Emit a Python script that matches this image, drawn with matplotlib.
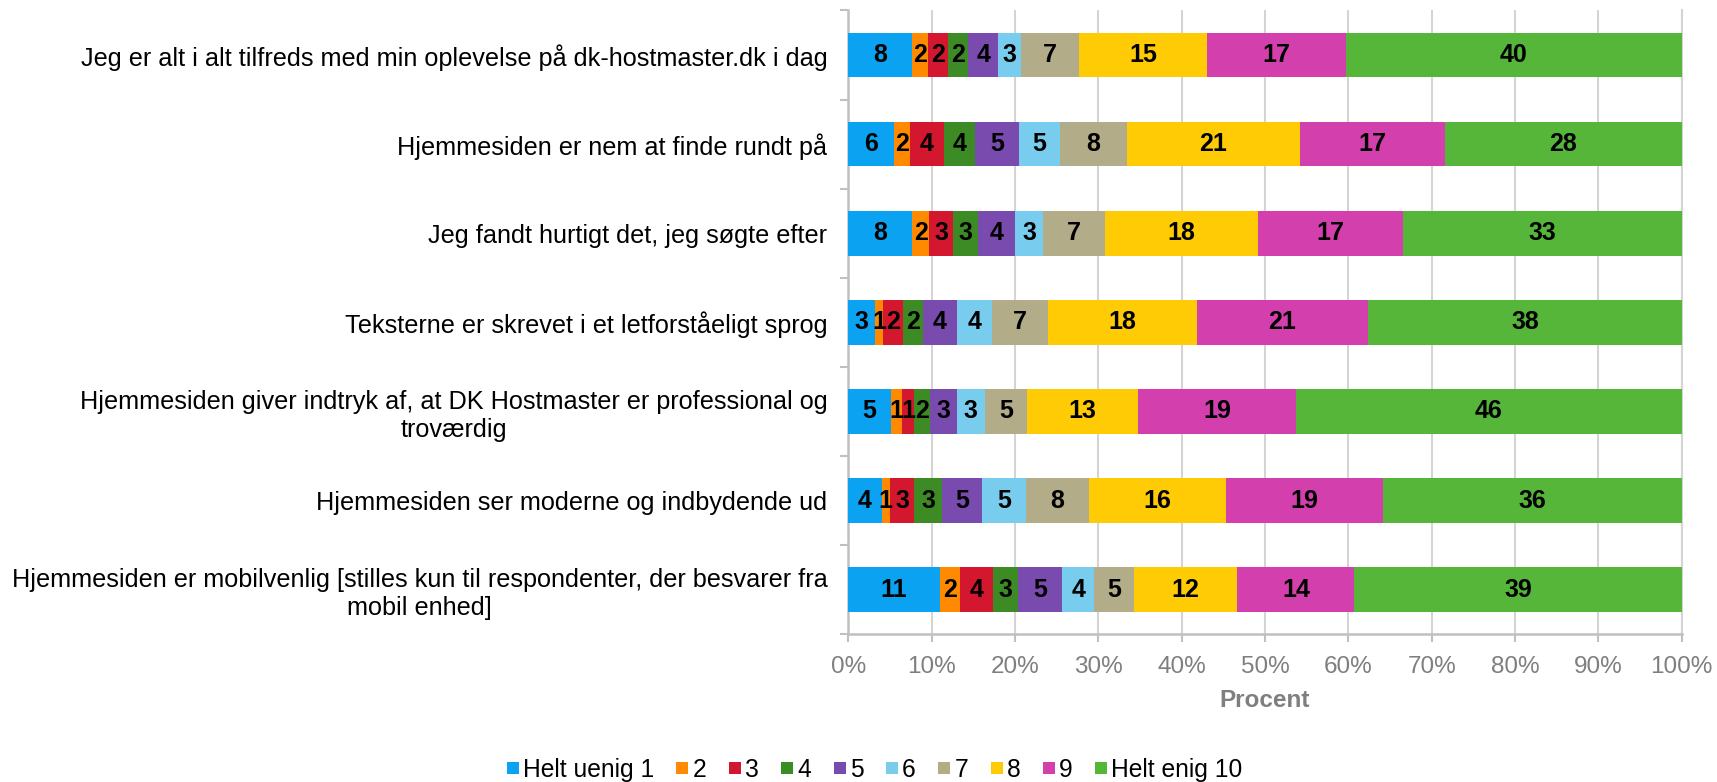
import matplotlib
matplotlib.use('Agg')
import matplotlib.pyplot as plt
from matplotlib.lines import Line2D
import numpy as np

plt.rcParams['font.family'] = ['Liberation Sans', 'DejaVu Sans']

statements = [
    "Jeg er alt i alt tilfreds med min oplevelse på dk-hostmaster.dk i dag",
    "Hjemmesiden er nem at finde rundt på",
    "Jeg fandt hurtigt det, jeg søgte efter",
    "Teksterne er skrevet i et letforståeligt sprog",
    "Hjemmesiden giver indtryk af, at DK Hostmaster er professional og\ntroværdig",
    "Hjemmesiden ser moderne og indbydende ud",
    "Hjemmesiden er mobilvenlig [stilles kun til respondenter, der besvarer fra\nmobil enhed]",
]

scale_names = ["Helt uenig 1", "2", "3", "4", "5", "6", "7", "8", "9", "Helt enig 10"]

# percent per answer (1..10), one list per statement
tilfreds    = [7.7, 1.9, 2.4, 2.4, 3.6, 2.7, 7.0, 15.3, 16.7, 40.3]
nem_rundt   = [5.5, 1.9, 4.1, 3.7, 5.3, 4.9, 8.0, 20.8, 17.4, 28.4]
hurtigt     = [7.7, 2.0, 2.9, 3.0, 4.4, 3.4, 7.4, 18.4, 17.4, 33.4]
tekster     = [3.2, 1.0, 2.4, 2.4, 4.0, 4.2, 6.8, 17.8, 20.6, 37.6]
troevaerdig = [5.1, 1.4, 1.4, 1.9, 3.2, 3.4, 5.0, 13.4, 18.9, 46.3]
moderne     = [4.0, 1.0, 2.9, 3.4, 4.8, 5.2, 7.6, 16.4, 18.9, 35.8]
mobil       = [11.0, 2.4, 4.0, 3.0, 5.3, 3.8, 4.8, 12.4, 14.0, 39.3]

colors = ["#0ba2f1", "#ff8a00", "#d2172f", "#3d8b25", "#7a4bae",
          "#78cdef", "#b2ad88", "#ffcb05", "#d340ad", "#55b63a"]

data = np.array([tilfreds, nem_rundt, hurtigt, tekster, troevaerdig, moderne, mobil]) / 100.0

fig = plt.figure(figsize=(17.17, 7.82), dpi=100)
ax = fig.add_axes([0.494, 0.189, 0.4855, 0.7976])

y = np.arange(len(statements))
left = np.zeros(len(statements))
for j in range(data.shape[1]):
    vals = data[:, j]
    ax.barh(y, vals, left=left, height=0.5, color=colors[j], linewidth=0, zorder=3)
    for i in range(len(y)):
        ax.text(left[i] + vals[i] / 2, y[i], str(int(round(vals[i] * 100))),
                ha='center', va='center', fontsize=18, fontweight='bold',
                color='black', zorder=4)
    left += vals

ax.set_xlim(0, 1)
ax.set_ylim(len(statements) - 0.5, -0.5)

ax.set_xticks(np.arange(0, 1.01, 0.1))
ax.set_xticklabels(["%d%%" % v for v in range(0, 101, 10)])
ax.tick_params(axis='x', colors='#c0c0c0', labelcolor='#7f7f7f', labelsize=17.5,
               length=6, width=1.5, pad=10)

ax.set_yticks(y)
ax.set_yticklabels(statements, fontsize=18.2)
for t in ax.get_yticklabels():
    t.set_multialignment('center')
    t.set_linespacing(1.2)
ax.tick_params(axis='y', which='major', length=0, pad=15)
ax.set_yticks(np.arange(-0.5, len(statements), 1), minor=True)
ax.tick_params(axis='y', which='minor', length=6, width=1.5, color='#c0c0c0')

ax.grid(axis='x', color='#d4d4d4', linewidth=1.5, zorder=0)
ax.spines['top'].set_visible(False)
ax.spines['right'].set_color('#d4d4d4')
ax.spines['right'].set_linewidth(1.5)
for side in ['left', 'bottom']:
    ax.spines[side].set_color('#c0c0c0')
    ax.spines[side].set_linewidth(1.8)

ax.set_xlabel("Procent", fontsize=17.5, fontweight='bold', color='#7f7f7f')
ax.xaxis.label.set_va('center')
ax.xaxis.set_label_coords(0.5, -0.107)

handles = [Line2D([], [], marker='s', linestyle='none', markersize=8.5,
                  markerfacecolor=c, markeredgewidth=0) for c in colors]
fig.legend(handles, scale_names, loc='center', bbox_to_anchor=(0.509, 0.0155),
           ncol=10, frameon=False, fontsize=17.7, handlelength=0.6,
           handletextpad=0.12, columnspacing=0.85, borderaxespad=0)

fig.savefig('out.png', dpi=100)
